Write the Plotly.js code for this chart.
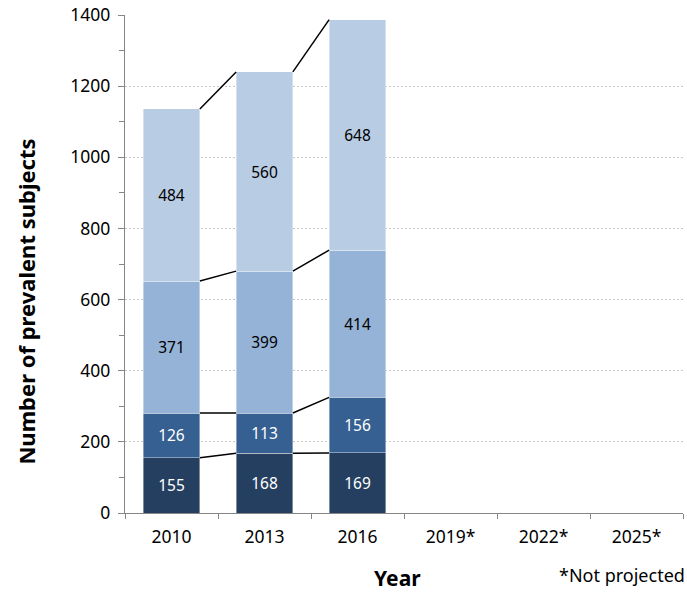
<!DOCTYPE html>
<html><head><meta charset="utf-8">
<script src="https://cdn.plot.ly/plotly-3.0.1.min.js"></script>
<style>body{margin:0;background:#fff}#c{width:687px;height:595px}</style>
</head><body><div id="c"></div>
<script>
const years = ["2010","2013","2016","2019*","2022*","2025*"];
const seg1 = [155,168,169,null,null,null];
const seg2 = [126,113,156,null,null,null];
const seg3 = [371,399,414,null,null,null];
const seg4 = [484,560,648,null,null,null];
const colors = ["#253F60","#366092","#95B3D7","#B8CCE4"];
const textColors = ["#ffffff","#ffffff","#000000","#000000"];
const series = [seg1,seg2,seg3,seg4];
const font = "Noto Sans, Open Sans, sans-serif";
const barWidthFrac = 0.61;

const traces = [];
series.forEach((s,k)=>{
  traces.push({
    type:'bar', x:years, y:s, marker:{color:colors[k], line:{color:'#ffffff', width:0.4}},
    text:s.map(v=>v==null?'':String(v)), textposition:'inside', insidetextanchor:'middle',
    textfont:{color:textColors[k], size:15.5, family:font}, hoverinfo:'none', showlegend:false,
    constraintext:'none'
  });
});
// connector (series) lines
const cum = series.map((_,k)=>years.map((_,i)=>{
  let t=0, ok=true;
  for(let j=0;j<=k;j++){ if(series[j][i]==null) ok=false; else t+=series[j][i]; }
  return ok?t:null;
}));
cum.forEach(c=>{
  const xs=[], ys=[];
  for(let i=0;i<c.length-1;i++){
    if(c[i]!=null && c[i+1]!=null){
      xs.push(i+barWidthFrac/2, i+1-barWidthFrac/2, null);
      ys.push(c[i], c[i+1], null);
    }
  }
  traces.push({type:'scatter', mode:'lines', x:xs, y:ys, xaxis:'x2', yaxis:'y',
    line:{color:'#000000', width:1.5}, hoverinfo:'none', showlegend:false, cliponaxis:false});
});

const layout = {
  width:687, height:595, margin:{l:125, r:4, t:15, b:82},
  paper_bgcolor:'#fff', plot_bgcolor:'#fff',
  barmode:'stack', bargap:1-barWidthFrac,
  font:{family:font, size:17, color:'#000'},
  xaxis:{type:'category', categoryorder:'array', categoryarray:years, tickson:'boundaries',
    ticks:'outside', ticklen:5, tickcolor:'#868686', showline:true, linecolor:'#868686', linewidth:1.3,
    showgrid:false, tickfont:{size:17.5, family:font}, ticklabelstandoff:8, range:[-0.5,5.5], fixedrange:true},
  xaxis2:{overlaying:'x', range:[-0.5,5.5], visible:false, fixedrange:true},
  yaxis:{range:[0,1400], dtick:200, ticks:'outside', ticklen:6, tickcolor:'#868686',
    showline:true, linecolor:'#868686', linewidth:1.3, showgrid:true, gridcolor:'#c8c8c8', griddash:'2px,2px',
    gridwidth:1, zeroline:false, tickfont:{size:17.5, family:font}, ticklabelstandoff:4,
    minor:{dtick:100, ticks:'outside', ticklen:5, tickcolor:'#868686', showgrid:false}},
  annotations:[
    {text:'<b>Number of prevalent subjects</b>', xref:'paper', yref:'paper', x:-0.178, y:0.424,
     textangle:-90, showarrow:false, font:{size:22, family:font}, xanchor:'center', yanchor:'middle'},
    {text:'<b>Year</b>', xref:'paper', yref:'paper', x:0.488, y:-0.131, showarrow:false,
     font:{size:21, family:font}, xanchor:'center', yanchor:'middle'},
    {text:'*Not projected', xref:'paper', yref:'paper', x:1.007, y:-0.125, showarrow:false,
     font:{size:18, family:font}, xanchor:'right', yanchor:'middle'}
  ]
};
Plotly.newPlot('c', traces, layout, {displayModeBar:false, staticPlot:true});
</script></body></html>
